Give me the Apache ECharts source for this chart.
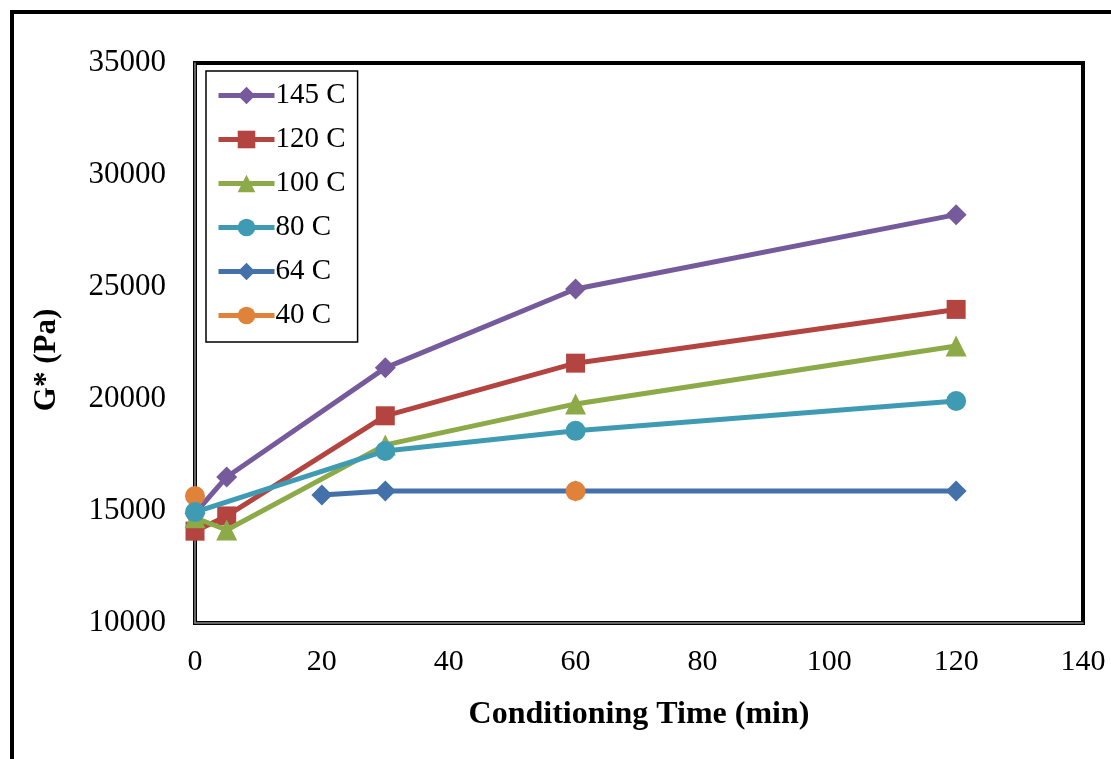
<!DOCTYPE html>
<html>
<head>
<meta charset="utf-8">
<script src="https://cdn.jsdelivr.net/npm/echarts@6/dist/echarts.min.js"></script>
<style>
html,body{margin:0;padding:0;background:#fff;}
#c{width:1111px;height:759px;}
</style>
</head>
<body>
<div id="c"></div>
<script>
// ---- data ----
const seriesNames = ['145 C', '120 C', '100 C', '80 C', '64 C', '40 C'];
const times145 = [0, 5, 30, 60, 120];
const g145 = [14900, 16520, 21390, 24910, 28230];
const times120 = [0, 5, 30, 60, 120];
const g120 = [14100, 14780, 19250, 21600, 24000];
const times100 = [0, 5, 30, 60, 120];
const g100 = [14700, 14150, 17950, 19780, 22370];
const times80 = [0, 30, 60, 120];
const g80 = [14950, 17680, 18580, 19910];
const times64 = [20, 30, 60, 120];
const g64 = [15710, 15890, 15890, 15890];
const times40 = [0, 30, 60];
const g40 = [15670, null, 15890];
const xTicks = [0, 20, 40, 60, 80, 100, 120, 140];
const yTicks = [10000, 15000, 20000, 25000, 30000, 35000];

const colors = ['#765B9C', '#B3443F', '#8DAA48', '#3F9BB3', '#4471A9', '#E0823A'];
const symbols = ['diamond', 'rect', 'triangle', 'circle', 'diamond', 'circle'];
const sizes = [21, 19, 21, 20, 21, 20];

const pairs = (t, v) => t.map((x, i) => [x, v[i] == null ? '-' : v[i]]);
const dataSets = [
  pairs(times145, g145), pairs(times120, g120), pairs(times100, g100),
  pairs(times80, g80), pairs(times64, g64), pairs(times40, g40)
];

const font = 'Liberation Serif';
const chart = echarts.init(document.getElementById('c'), null, {renderer: 'canvas'});
chart.setOption({
  animation: false,
  backgroundColor: '#fff',
  color: colors,
  graphic: [{
    type: 'rect', shape: {x: 12, y: 12, width: 1200, height: 800},
    style: {fill: null, stroke: '#000', lineWidth: 4}, silent: true, z: -10
  }],
  grid: {left: 195, right: 28, top: 63, bottom: 136, show: true,
         borderColor: '#000', borderWidth: 4, backgroundColor: 'transparent'},
  legend: {
    orient: 'vertical', left: 206, top: 71,
    data: seriesNames,
    itemWidth: 56, itemHeight: 22, itemGap: 15,
    padding: [10, 12, 12, 10],
    borderColor: '#000', borderWidth: 1.5, backgroundColor: '#fff',
    lineStyle: {width: 5},
    textStyle: {fontFamily: font, fontSize: 29, color: '#000', padding: [0,0,0,-4]}
  },
  xAxis: {
    type: 'value', min: 0, max: 140, interval: 20,
    name: 'Conditioning Time (min)', nameLocation: 'middle', nameGap: 76,
    nameTextStyle: {fontFamily: font, fontSize: 32, fontWeight: 'bold', color: '#000'},
    axisLine: {show: true, lineStyle: {color: '#888', width: 1.5}},
    axisTick: {show: false},
    splitLine: {show: false},
    axisLabel: {fontFamily: font, fontSize: 30, color: '#000', margin: 24,
      formatter: v => xTicks.includes(v) ? String(v) : ''}
  },
  yAxis: {
    type: 'value', min: 10000, max: 35000, interval: 5000,
    name: 'G* (Pa)', nameLocation: 'middle', nameGap: 133, nameRotate: 90,
    nameTextStyle: {fontFamily: font, fontSize: 31, fontWeight: 'bold', color: '#000',
      padding: [0, 34, 0, 0]},
    axisLine: {show: true, lineStyle: {color: '#888', width: 1.5}},
    axisTick: {show: false},
    splitLine: {show: false},
    axisLabel: {fontFamily: font, fontSize: 31, color: '#000', margin: 29,
      formatter: v => yTicks.includes(v) ? String(v) : ''}
  },
  series: seriesNames.map((n, i) => ({
    name: n, type: 'line', data: dataSets[i],
    symbol: symbols[i], symbolSize: sizes[i], showAllSymbol: true,
    connectNulls: false,
    z: i === 3 ? 9 : 2 + i,
    lineStyle: {width: 5, color: colors[i]},
    itemStyle: {color: colors[i], borderWidth: 0}
  }))
});
</script>
</body>
</html>
